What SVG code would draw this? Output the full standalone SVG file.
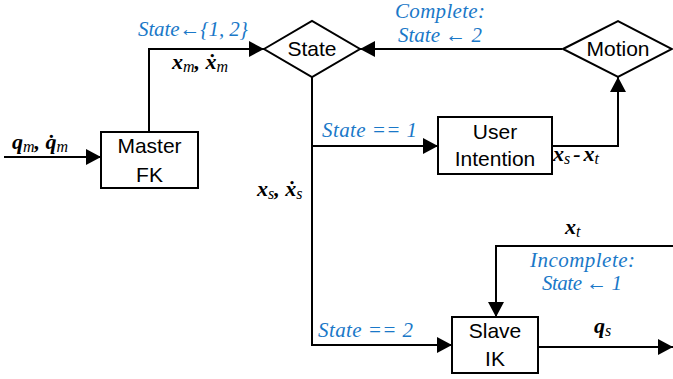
<svg xmlns="http://www.w3.org/2000/svg" width="673" height="379" viewBox="0 0 673 379">
<defs>
<marker id="ah" markerUnits="userSpaceOnUse" markerWidth="16" markerHeight="16" refX="15" refY="8" orient="auto">
<path d="M0,0 L15,8 L0,16 z" fill="#000"/>
</marker>
<style>
.box{fill:#fff;stroke:#000;stroke-width:2}
.lbl{font-family:"Liberation Sans",Arial,sans-serif;font-size:21px;fill:#000;text-anchor:middle}
.blue{font-family:"Liberation Serif","Times New Roman",serif;font-style:italic;font-size:21px;fill:#1a78c8}
.m{font-family:"Liberation Serif","Times New Roman",serif;font-style:italic;font-weight:bold;font-size:22px;fill:#000}
.sub{font-weight:normal;font-size:16px}
.ln{fill:none;stroke:#000;stroke-width:2}
</style>
</defs>
<g id="connectors">
<path class="ln" d="M4,157 H101" marker-end="url(#ah)"/>
<path class="ln" d="M149,132 V49 H264" marker-end="url(#ah)"/>
<path class="ln" d="M562,49 H360" marker-end="url(#ah)"/>
<path class="ln" d="M312,77 V345 H452" marker-end="url(#ah)"/>
<path class="ln" d="M312,146 H438" marker-end="url(#ah)"/>
<path class="ln" d="M552,146 H618 V77" marker-end="url(#ah)"/>
<path class="ln" d="M673,246 H496 V317" marker-end="url(#ah)"/>
<path class="ln" d="M538,347 H673" marker-end="url(#ah)"/>
</g>
<g id="master-fk">
<rect class="box" x="101" y="132" width="97" height="56"/>
<text class="lbl" x="149.5" y="153">Master</text>
<text class="lbl" x="149.5" y="182">FK</text>
</g>
<g id="state">
<polygon class="box" points="264,49 312,21 360,49 312,77"/>
<text class="lbl" x="312" y="56">State</text>
</g>
<g id="motion">
<polygon class="box" points="563,49 618,21 672,49 618,77"/>
<text class="lbl" x="618" y="56">Motion</text>
</g>
<g id="user-intention">
<rect class="box" x="438" y="117" width="114" height="57"/>
<text class="lbl" x="495" y="139">User</text>
<text class="lbl" x="495" y="166">Intention</text>
</g>
<g id="slave-ik">
<rect class="box" x="452" y="317" width="86" height="56"/>
<text class="lbl" x="495" y="338">Slave</text>
<text class="lbl" x="495" y="366">IK</text>
</g>
<g id="labels">
<text class="m" x="12" y="149">q<tspan class="sub" dy="3">m</tspan><tspan dy="-3">, q̇</tspan><tspan class="sub" dy="3">m</tspan></text>
<text class="blue" x="138" y="36" textLength="110" lengthAdjust="spacing">State←{1, 2}</text>
<text class="m" x="172" y="69">x<tspan class="sub" dy="3">m</tspan><tspan dy="-3">, ẋ</tspan><tspan class="sub" dy="3">m</tspan></text>
<text class="blue" x="395" y="18" textLength="90" lengthAdjust="spacing">Complete:</text>
<text class="blue" x="398" y="42" textLength="84" lengthAdjust="spacing">State ← 2</text>
<text class="blue" x="322" y="137" textLength="95" lengthAdjust="spacing">State == 1</text>
<text class="m" x="257" y="196">x<tspan class="sub" dy="3">s</tspan><tspan dy="-3">, ẋ</tspan><tspan class="sub" dy="3">s</tspan></text>
<text class="m" x="553" y="161">x<tspan class="sub" dy="3">s</tspan><tspan dy="-3" dx="3">-</tspan><tspan dx="3">x</tspan><tspan class="sub" dy="3">t</tspan></text>
<text class="m" x="565" y="234">x<tspan class="sub" dy="3">t</tspan></text>
<text class="blue" x="530" y="267" textLength="105" lengthAdjust="spacing">Incomplete:</text>
<text class="blue" x="542" y="290" textLength="80" lengthAdjust="spacing">State ← 1</text>
<text class="blue" x="318" y="337" textLength="95" lengthAdjust="spacing">State == 2</text>
<text class="m" x="594" y="333">q<tspan class="sub" dy="3">s</tspan></text>
</g>
</svg>
